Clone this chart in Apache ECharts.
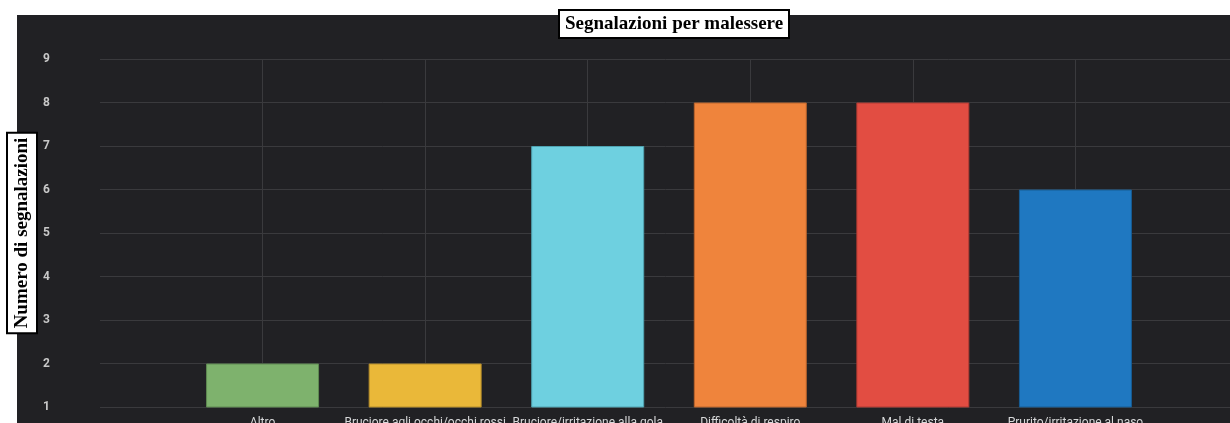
<!DOCTYPE html>
<html>
<head>
<meta charset="utf-8">
<script src="https://cdn.jsdelivr.net/npm/echarts@6/dist/echarts.min.js"></script>
<style>
  html, body { margin: 0; padding: 0; background: #ffffff; }
  #chart { width: 1230px; height: 423px; }
</style>
</head>
<body>
<div id="chart"></div>
<script>
// Reports per complaint type
const categories = [
  'Altro',
  'Bruciore agli occhi/occhi rossi',
  'Bruciore/irritazione alla gola',
  'Difficoltà di respiro',
  'Mal di testa',
  'Prurito/irritazione al naso'
];
const values = [2, 2, 7, 8, 8, 6];
const yTicks = [1, 2, 3, 4, 5, 6, 7, 8, 9];
const yTitle = 'Numero di segnalazioni';

const palette = ['#7EB26D', '#EAB839', '#6ED0E0', '#EF843C', '#E24D42', '#1F78C1'];
const borders = ['#5f8a52', '#b58d2a', '#4fa3b1', '#b9642c', '#ad3a32', '#175c94'];

// one empty slot on each side so the bars sit between the outer edges
const xData = [''].concat(categories, ['']);
const barData = [null].concat(values.map((v, i) => ({
  value: v,
  itemStyle: { color: palette[i], borderColor: borders[i], borderWidth: 1 }
})), [null]);

const chart = echarts.init(document.getElementById('chart'), null, { renderer: 'canvas' });

chart.setOption({
  backgroundColor: '#ffffff',
  animation: false,
  graphic: [{
    type: 'rect',
    z: -10,
    silent: true,
    shape: { x: 17, y: 15, width: 1213, height: 408 },
    style: { fill: '#212124' }
  }, {
    // boxed, rotated y-axis title
    type: 'text',
    silent: true,
    x: 22,
    y: 233,
    rotation: Math.PI / 2,
    z: 10,
    style: {
      text: yTitle,
      align: 'center',
      verticalAlign: 'middle',
      font: 'bold 19px "Liberation Serif"',
      lineHeight: 21,
      fill: '#000000',
      backgroundColor: '#ffffff',
      borderColor: '#000000',
      borderWidth: 2,
      padding: [4, 4, 3, 4]
    }
  }],
  title: {
    text: 'Segnalazioni per malessere',
    left: 559,
    top: 10,
    padding: [4, 6, 3, 6],
    backgroundColor: '#ffffff',
    borderColor: '#000000',
    borderWidth: 2,
    textStyle: {
      fontFamily: 'Liberation Serif',
      fontWeight: 'bold',
      fontSize: 19,
      lineHeight: 21,
      color: '#000000'
    }
  },
  grid: {
    left: 100, right: -8, top: 59, bottom: 16,
    containLabel: false,
    outerBoundsMode: 'none'
  },
  xAxis: {
    type: 'category',
    data: xData,
    boundaryGap: false,
    axisLine: { show: false },
    axisTick: { show: false },
    axisLabel: {
      interval: 0,
      margin: 10,
      color: '#d8d9da',
      fontFamily: 'Roboto',
      fontSize: 12
    },
    splitLine: {
      show: true,
      interval: (idx) => idx > 0 && idx < xData.length - 1,
      lineStyle: { color: '#3a3a3d', width: 1 }
    }
  },
  yAxis: {
    type: 'value',
    min: yTicks[0],
    max: yTicks[yTicks.length - 1],
    interval: 1,
    axisLine: { show: false },
    axisTick: { show: false },
    axisLabel: {
      margin: 50,
      color: '#c8c8c8',
      fontFamily: 'Roboto',
      fontWeight: 'bold',
      fontSize: 12
    },
    splitLine: { lineStyle: { color: '#3a3a3d', width: 1 } }
  },
  series: [{
    type: 'bar',
    data: barData,
    barWidth: 113
  }]
});
</script>
</body>
</html>
